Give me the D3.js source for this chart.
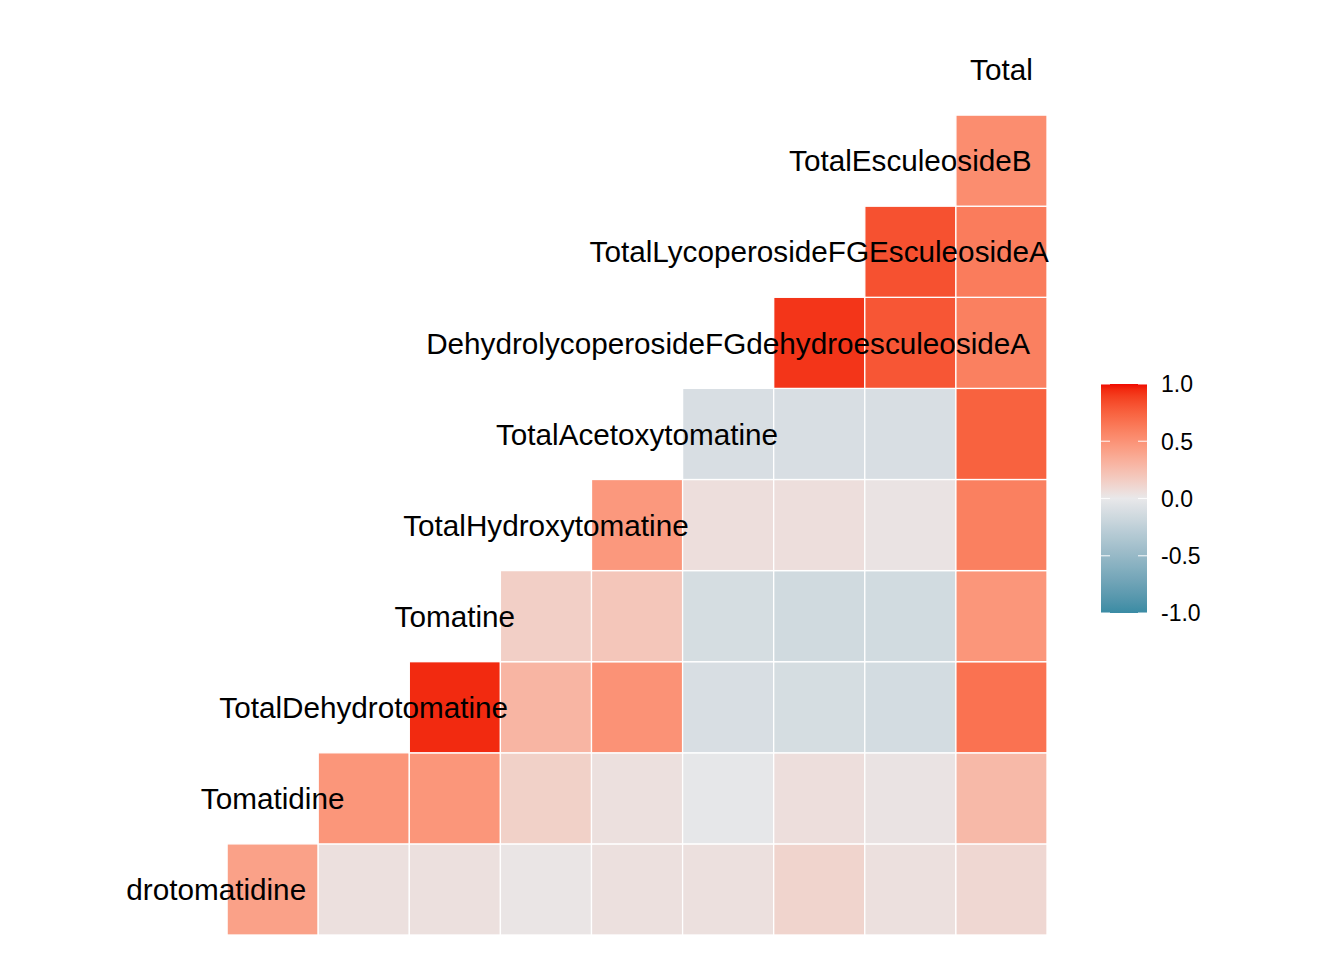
<!DOCTYPE html>
<html>
<head>
<meta charset="utf-8">
<script src="https://cdn.jsdelivr.net/npm/d3@7/dist/d3.min.js"></script>
<style>
  html, body { margin: 0; padding: 0; background: #ffffff; }
  svg { display: block; }
</style>
</head>
<body>
<svg id="chart" width="1344" height="960"></svg>
<script>
// Variables (diagonal labels), bottom-left to top-right
const variables = [
  "Dehydrotomatidine",
  "Tomatidine",
  "TotalDehydrotomatine",
  "Tomatine",
  "TotalHydroxytomatine",
  "TotalAcetoxytomatine",
  "DehydrolycoperosideFGdehydroesculeosideA",
  "TotalLycoperosideFGEsculeosideA",
  "TotalEsculeosideB",
  "Total"
];

// Correlations of each variable with the variables that follow it
const corrDehydrotomatidine      = [0.42, 0.05, 0.05, 0.02, 0.05, 0.05, 0.12, 0.05, 0.10];
const corrTomatidine             = [0.48, 0.48, 0.14, 0.05, -0.01, 0.06, 0.03, 0.28];
const corrTotalDehydrotomatine   = [0.95, 0.30, 0.50, -0.10, -0.12, -0.13, 0.67];
const corrTomatine               = [0.15, 0.20, -0.12, -0.15, -0.14, 0.48];
const corrTotalHydroxytomatine   = [0.47, 0.06, 0.06, 0.03, 0.60];
const corrTotalAcetoxytomatine   = [-0.10, -0.10, -0.10, 0.75];
const corrDehydrolycoperosideFG  = [0.92, 0.80, 0.60];
const corrTotalLycoperosideFG    = [0.82, 0.62];
const corrTotalEsculeosideB      = [0.53];

const corrRows = [
  corrDehydrotomatidine, corrTomatidine, corrTotalDehydrotomatine, corrTomatine,
  corrTotalHydroxytomatine, corrTotalAcetoxytomatine, corrDehydrolycoperosideFG,
  corrTotalLycoperosideFG, corrTotalEsculeosideB
];

const legendTicks = [1.0, 0.5, 0.0, -0.5, -1.0];

// Build cell table
const cells = [];
corrRows.forEach((vals, i) => {
  vals.forEach((v, k) => {
    cells.push({ row: variables[i], col: variables[i + 1 + k], value: v });
  });
});

const svg = d3.select("#chart");
const fontFamily = "'Liberation Sans', Arial, Helvetica, sans-serif";

const x = d3.scaleBand().domain(variables).range([136, 1047]).padding(0);
const y = d3.scaleBand().domain(variables).range([935, 24]).padding(0);

const color = d3.scaleLinear()
  .domain([-1, 0, 1])
  .range(["#3A8BA4", "#E8E8EA", "#F00A00"])
  .interpolate(d3.interpolateLab);

svg.append("defs").append("clipPath").attr("id", "panelClip")
  .append("rect").attr("x", 127).attr("y", 0).attr("width", 1000).attr("height", 960);

const panel = svg.append("g").attr("clip-path", "url(#panelClip)");

panel.append("g").selectAll("rect")
  .data(cells)
  .join("rect")
  .attr("x", d => x(d.col))
  .attr("y", d => y(d.row))
  .attr("width", x.bandwidth())
  .attr("height", y.bandwidth())
  .attr("fill", d => color(d.value))
  .attr("stroke", "#ffffff")
  .attr("stroke-width", 1.3);

const labelSize = 29.7;
panel.append("g").selectAll("text")
  .data(variables)
  .join("text")
  .attr("x", d => x(d) + x.bandwidth() / 2)
  .attr("y", d => y(d) + y.bandwidth() / 2 + labelSize * 0.36)
  .attr("text-anchor", "middle")
  .attr("font-family", fontFamily)
  .attr("font-size", labelSize)
  .attr("fill", "#000000")
  .text(d => d);

// Legend colour bar
const lx = 1101, lw = 46, ly0 = 384, ly1 = 613;
const ly = d3.scaleLinear().domain([-1, 1]).range([ly1, ly0]);

const grad = svg.select("defs").append("linearGradient")
  .attr("id", "legendGrad")
  .attr("x1", 0).attr("y1", 1).attr("x2", 0).attr("y2", 0);
d3.range(0, 41).forEach(i => {
  const v = -1 + i / 20;
  grad.append("stop").attr("offset", (i / 40)).attr("stop-color", color(v));
});

const legend = svg.append("g");
legend.append("rect")
  .attr("x", lx).attr("y", ly0)
  .attr("width", lw).attr("height", ly1 - ly0)
  .attr("fill", "url(#legendGrad)");

legend.selectAll("line.tl")
  .data(legendTicks)
  .join("line")
  .attr("class", "tl")
  .attr("x1", lx).attr("x2", lx + 9)
  .attr("y1", d => ly(d)).attr("y2", d => ly(d))
  .attr("stroke", "#ffffff").attr("stroke-width", 1.2).attr("stroke-opacity", 0.8);
legend.selectAll("line.tr")
  .data(legendTicks)
  .join("line")
  .attr("class", "tr")
  .attr("x1", lx + lw - 9).attr("x2", lx + lw)
  .attr("y1", d => ly(d)).attr("y2", d => ly(d))
  .attr("stroke", "#ffffff").attr("stroke-width", 1.2).attr("stroke-opacity", 0.8);

const tickSize = 23;
legend.selectAll("text")
  .data(legendTicks)
  .join("text")
  .attr("x", 1161)
  .attr("y", d => ly(d) + tickSize * 0.36)
  .attr("font-family", fontFamily)
  .attr("font-size", tickSize)
  .attr("fill", "#000000")
  .text(d => d3.format(".1f")(d).replace("\u2212", "-"));
</script>
</body>
</html>
